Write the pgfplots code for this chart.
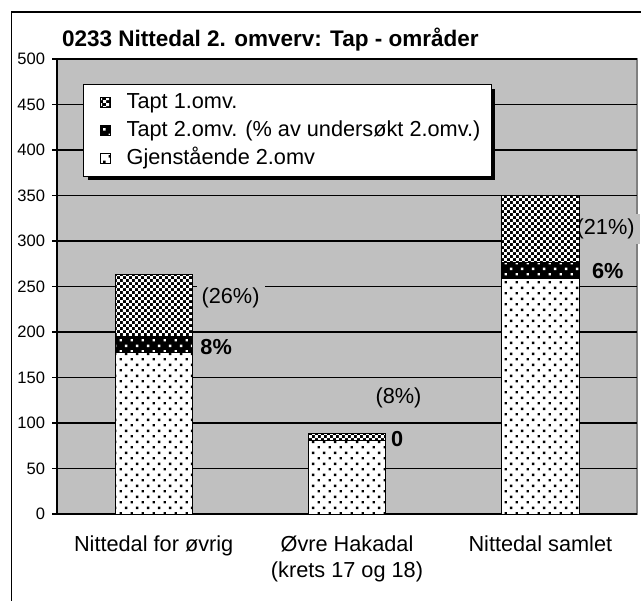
\documentclass[border=0pt]{standalone}
\usepackage{fontspec}
\setmainfont{Liberation Sans}
\usepackage{pgfplots}
\pgfplotsset{compat=1.18}
\usetikzlibrary{patterns,shadows}

\definecolor{plotgray}{HTML}{C0C0C0}
\definecolor{edgegray}{HTML}{808080}

% sparse staggered dots (Excel style)
\pgfdeclarepatternformonly{sparsedots}{\pgfpoint{0bp}{0bp}}{\pgfpoint{5.4bp}{5.4bp}}{\pgfpoint{5.4bp}{5.4bp}}{
  \pgfpathrectangle{\pgfpoint{0.3bp}{0.3bp}}{\pgfpoint{1.2bp}{1.2bp}}
  \pgfpathrectangle{\pgfpoint{3bp}{3bp}}{\pgfpoint{1.2bp}{1.2bp}}
  \pgfusepath{fill}}
% checkerboard
\pgfdeclarepatternformonly{checker}{\pgfpoint{0bp}{0bp}}{\pgfpoint{3.2bp}{3.2bp}}{\pgfpoint{3.2bp}{3.2bp}}{
  \pgfpathrectangle{\pgfpoint{0bp}{0bp}}{\pgfpoint{1.6bp}{1.6bp}}
  \pgfpathrectangle{\pgfpoint{1.6bp}{1.6bp}}{\pgfpoint{1.6bp}{1.6bp}}
  \pgfusepath{fill}}

\makeatletter
\tikzset{noshadow/.code={\let\tikz@preactions\pgfutil@empty}}
\makeatother

\newcommand{\lblfont}{\fontsize{10.9}{13}\selectfont}
\tikzset{pct/.style={font=\lblfont, fill=plotgray, inner sep=2.5bp, anchor=west},
         pctb/.style={pct, font=\lblfont\bfseries}}

\begin{document}
\begin{tikzpicture}
\useasboundingbox (0,0) rectangle (320.5bp,-300.5bp);
\draw[line width=0.8bp] (5.8bp,-300.5bp) -- (5.8bp,-6bp) -- (320.5bp,-6bp);
\node[font=\bfseries\fontsize{11.3}{13}\selectfont, anchor=base] at (135.2bp,-23bp)
  {0233 Nittedal 2. omverv: Tap - områder};

\begin{axis}[
    at={(28.5bp,-257bp)}, anchor=south west,
    scale only axis, width=290bp, height=227.5bp,
    xmin=0, xmax=3, ymin=0, ymax=500,
    ybar stacked, bar width=0.4,
    axis x line*=bottom, axis y line*=left,
    axis line style={line width=0.8bp, black},
    axis background/.style={fill=plotgray, draw=edgegray, line width=0.8bp},
    ytick distance=50,
    ymajorgrids, grid style={line width=0.6bp, black},
    tick align=outside,
    major tick length=2.5bp,
    tick style={line width=0.6bp, black},
    yticklabel style={font=\fontsize{8.3}{10}\selectfont, xshift=0bp},
    /pgf/number format/assume math mode=true,
    xtick={0.5,1.5,2.5},
    xticklabels={Nittedal for øvrig, Øvre Hakadal\\(krets 17 og 18), Nittedal samlet},
    xticklabel style={font=\lblfont, align=center, yshift=-5bp},
    x tick style={draw=none},
    minor xtick={0,1,2,3},
    minor tick length=3.5bp,
    clip=false,
    reverse legend,
    legend image code/.code={\path (0bp,0bp);
      \draw[noshadow, #1, line width=0.5bp] (3.5bp,-2.5bp) rectangle (8.5bp,2.5bp);},
    legend style={at={(0.045,0.945)}, anchor=north west, draw=black, fill=white,
      line width=0.6bp, font=\lblfont,
      drop shadow={shadow xshift=2bp, shadow yshift=-2bp, opacity=1, fill=black},
      inner xsep=4.5bp, inner ysep=2.1bp,
      nodes={inner xsep=1bp, inner ysep=1.5bp, text height=8.3bp, text depth=2.6bp},
      /tikz/every odd column/.append style={column sep=7bp},
      cells={anchor=west}},
]
\addplot[draw=black, line width=0.5bp, fill=white,
  postaction={pattern=sparsedots, pattern color=black}]
  coordinates {(0.5,178) (1.5,81) (2.5,259)};
\addlegendentry{Gjenstående 2.omv}
\addplot[draw=black, line width=0.5bp, fill=black,
  postaction={pattern=sparsedots, pattern color=white}]
  coordinates {(0.5,17) (1.5,0) (2.5,17)};
\addlegendentry{Tapt 2.omv. (\% av undersøkt 2.omv.)}
\addplot[draw=black, line width=0.5bp, fill=black,
  postaction={pattern=checker, pattern color=white}]
  coordinates {(0.5,68) (1.5,7) (2.5,74)};
\addlegendentry{Tapt 1.omv.}

\node[pct] at (axis cs:0.72,237) {(26\%)};
\node[pctb] at (axis cs:0.714,184) {8\%};
\node[pct] at (axis cs:1.62,128) {(8\%)};
\node[pctb] at (axis cs:1.70,82) {0};
\node[pct] at (axis cs:2.66,313) {(21\%)};
\node[pctb] at (axis cs:2.74,267) {6\%};
\end{axis}
\end{tikzpicture}
\end{document}
